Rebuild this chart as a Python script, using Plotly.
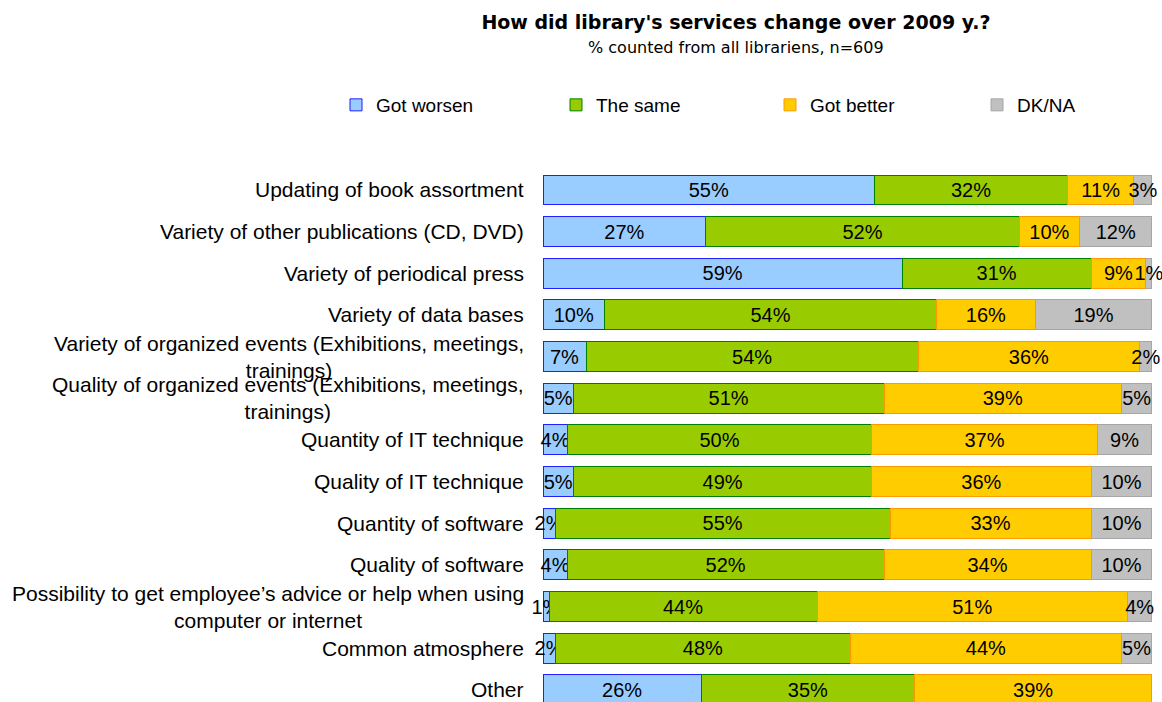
import plotly.graph_objects as go

# Survey answers, % of all librarians (n=609)
categories = [
    "Updating of book assortment",
    "Variety of other publications (CD, DVD)",
    "Variety of periodical press",
    "Variety of data bases",
    "Variety of organized events (Exhibitions, meetings,<br>trainings)",
    "Quality of organized events (Exhibitions, meetings,<br>trainings)",
    "Quantity of IT technique",
    "Quality of IT technique",
    "Quantity of software",
    "Quality of software",
    "Possibility to get employee\u2019s advice or help when using<br>computer or internet",
    "Common atmosphere",
    "Other",
]
got_worsen = [55, 27, 59, 10, 7, 5, 4, 5, 2, 4, 1, 2, 26]
the_same = [32, 52, 31, 54, 54, 51, 50, 49, 55, 52, 44, 48, 35]
got_better = [11, 10, 9, 16, 36, 39, 37, 36, 33, 34, 51, 44, 39]
dk_na = [3, 12, 1, 19, 2, 5, 9, 10, 10, 10, 4, 5, 0]

# name, values, fill, outline, legend id, legend left edge (px)
series = [
    ("Got worsen", got_worsen, "#99CCFF", "#1F1FFF", "legend", 336),
    ("The same", the_same, "#99CC00", "#008000", "legend2", 556),
    ("Got better", got_better, "#FFCC00", "#FF9900", "legend3", 770),
    ("DK/NA", dk_na, "#C0C0C0", "#A6A6A6", "legend4", 977),
]

FONT = "Liberation Sans"
HEAD_FONT = "DejaVu Sans"
W, H = 1162, 702
ML, MR, MT, MB = 543, 10, 155, 0
PW, PH = W - ML - MR, H - MT - MB
positions = list(range(len(categories)))

fig = go.Figure()
legend_layouts = {}
for name, vals, fill, edge, leg, leg_x in series:
    fig.add_trace(go.Bar(
        name=name,
        legend=leg,
        y=positions,
        x=vals,
        orientation="h",
        width=0.72,
        marker=dict(color=fill, line=dict(color=edge, width=1)),
        text=[f"{v}%" if v else "" for v in vals],
        textposition="inside",
        insidetextanchor="middle",
        constraintext="none",
        textangle=0,
        textfont=dict(family=FONT, size=20, color="#000000"),
        cliponaxis=False,
    ))
    legend_layouts[leg] = dict(
        orientation="h",
        xref="container", x=leg_x / W, xanchor="left",
        yref="container", y=1 - 105 / H, yanchor="middle",
        font=dict(family=FONT, size=19, color="#000000"),
        bgcolor="rgba(0,0,0,0)",
    )

# Category labels, right-aligned against the plot with centred line wrapping
for pos, label in zip(positions, categories):
    fig.add_annotation(
        x=0, xref="paper", xanchor="right", xshift=-17,
        y=pos, yref="y", yanchor="middle",
        text=label, showarrow=False, align="center",
        font=dict(family=FONT, size=21, color="#000000"),
    )

# Subtitle under the chart title
fig.add_annotation(
    x=(736 - ML) / PW, xref="paper", xanchor="center",
    y=(H - MB - 48) / PH, yref="paper", yanchor="middle",
    text="% counted from all librariens, n=609", showarrow=False,
    font=dict(family=HEAD_FONT, size=16, color="#000000"),
)

fig.update_layout(
    width=W,
    height=H,
    margin=dict(l=ML, r=MR, t=MT, b=MB),
    paper_bgcolor="white",
    plot_bgcolor="white",
    barmode="stack",
    barnorm="percent",
    bargap=0.28,
    title=dict(
        text="<b>How did library's services change over 2009 y.?</b>",
        x=736 / W, xanchor="center",
        y=1 - 22 / H, yanchor="middle",
        font=dict(family=HEAD_FONT, size=19, color="#000000"),
    ),
    xaxis=dict(range=[0, 100.001], visible=False, fixedrange=True),
    yaxis=dict(range=[12.29, -0.84], visible=False, fixedrange=True),
    showlegend=True,
    **legend_layouts,
)

fig.write_html("out.html")
